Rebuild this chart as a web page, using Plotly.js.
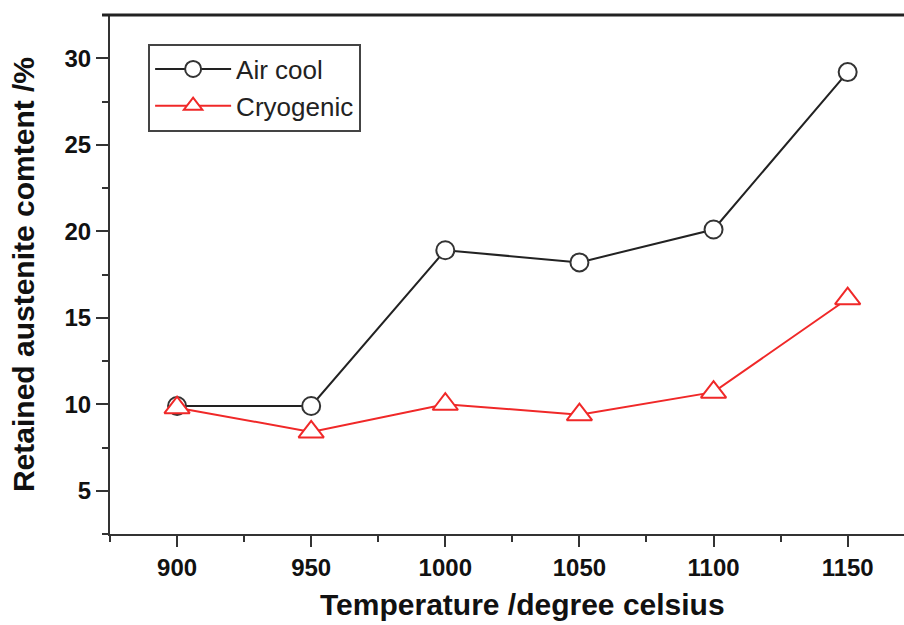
<!DOCTYPE html>
<html><head><meta charset="utf-8">
<script src="https://cdn.plot.ly/plotly-3.0.1.min.js"></script>
<style>html,body{margin:0;padding:0;background:#fff;}#chart{width:904px;height:625px;}</style>
</head><body><div id="chart"></div>
<script>
const temperatures = [900, 950, 1000, 1050, 1100, 1150];
const airCool = [9.9, 9.9, 18.9, 18.2, 20.1, 29.2];
const cryogenic = [9.8, 8.4, 10.0, 9.4, 10.7, 16.1];
const seriesNames = ["Air cool", "Cryogenic"];
const xTicks = [900, 950, 1000, 1050, 1100, 1150];
const yTicks = [5, 10, 15, 20, 25, 30];
const xTitle = "Temperature /degree celsius";
const yTitle = "Retained austenite comtent /%";

const font = "Liberation Sans, Arial, sans-serif";
const traces = [
  {x: temperatures, y: airCool, name: seriesNames[0], mode: "lines+markers",
   line: {color: "#222", width: 2},
   marker: {symbol: "circle", size: 18, color: "white", line: {color: "#333", width: 2}}},
  {x: temperatures, y: cryogenic, name: seriesNames[1], mode: "lines+markers",
   line: {color: "#f02828", width: 2},
   marker: {symbol: "triangle-up", size: 22, color: "white", line: {color: "#f02828", width: 2}}}
];
const layout = {
  width: 904, height: 625,
  margin: {l: 110, r: 0, t: 15, b: 91},
  paper_bgcolor: "white", plot_bgcolor: "white",
  showlegend: true,
  legend: {x: 0.048, y: 0.945, xanchor: "left", yanchor: "top",
    bordercolor: "#444", borderwidth: 2, bgcolor: "white",
    font: {family: font, size: 26, color: "#222"}, itemwidth: 76, tracegroupgap: 0},
  xaxis: {range: [875, 1171], tickvals: xTicks, ticks: "outside", ticklen: 11, tickwidth: 2,
    tickcolor: "#333", showline: true, linecolor: "#333", linewidth: 2, mirror: false,
    showgrid: false, zeroline: false,
    minor: {dtick: 25, ticks: "outside", ticklen: 6, tickwidth: 2, tickcolor: "#333"},
    tickfont: {family: font, size: 24, color: "#111", weight: "bold"}},
  yaxis: {range: [2.5, 32.5], tickvals: yTicks, ticks: "outside", ticklen: 12, tickwidth: 2,
    tickcolor: "#333", showline: true, linecolor: "#333", linewidth: 2,
    showgrid: false, zeroline: false,
    minor: {dtick: 2.5, ticks: "outside", ticklen: 6, tickwidth: 2, tickcolor: "#333"},
    tickfont: {family: font, size: 24, color: "#111", weight: "bold"},
    title: {text: "<b>" + yTitle + "</b>", font: {family: font, size: 30, color: "#111"}, standoff: 21}},
  annotations: [{text: "<b>" + xTitle + "</b>", xref: "paper", yref: "paper",
    x: 0.519, y: -0.135, xanchor: "center", yanchor: "middle", showarrow: false,
    font: {family: font, size: 30, color: "#111"}}],
  shapes: [{type: "line", xref: "paper", yref: "paper", x0: -0.01, x1: 1, y0: 1, y1: 1,
    line: {color: "#222", width: 3}}]
};
Plotly.newPlot("chart", traces, layout, {displayModeBar: false});
</script></body></html>
